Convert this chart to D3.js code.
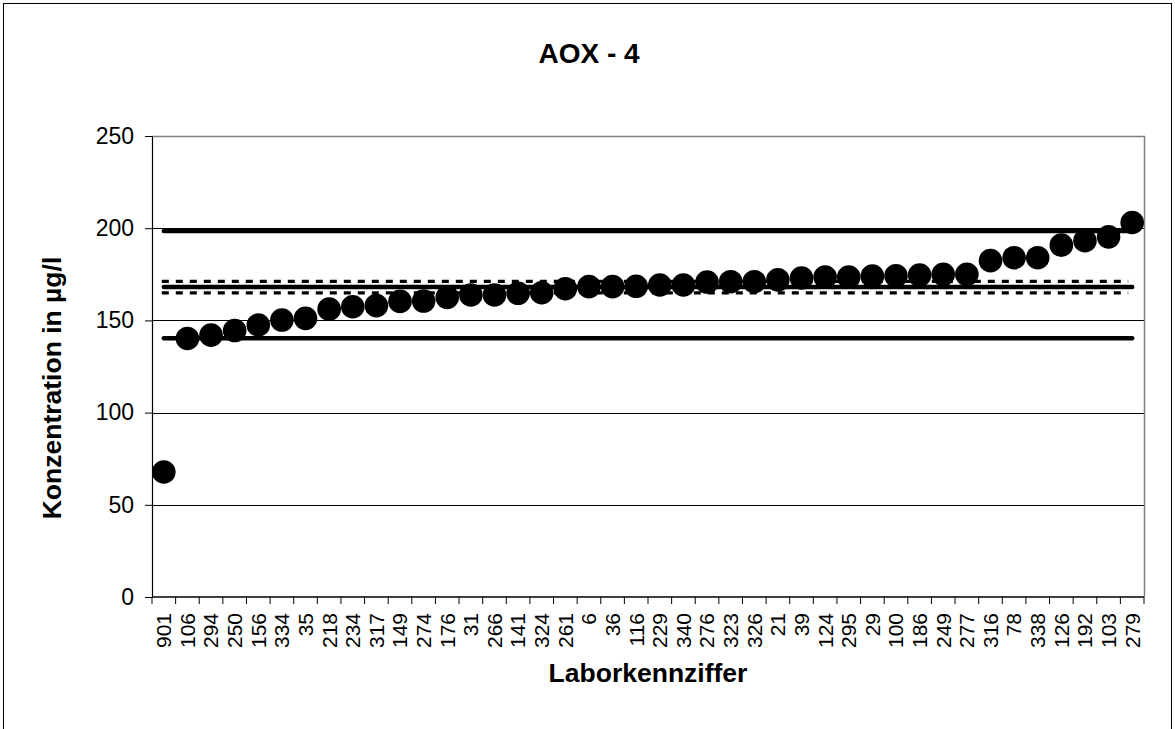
<!DOCTYPE html>
<html>
<head>
<meta charset="utf-8">
<script src="https://cdn.jsdelivr.net/npm/d3@7"></script>
<style>
  html, body { margin: 0; padding: 0; background: #fff; }
  svg { display: block; }
  text { font-family: "Liberation Sans", Arial, sans-serif; fill: #000; }
</style>
</head>
<body>
<svg id="chart" width="1175" height="729"></svg>
<script>
// ---- data ----
const labs = ["901","106","294","250","156","334","35","218","234","317","149","274","176","31","266","141","324","261","6","36","116","229","340","276","323","326","21","39","124","295","29","100","186","249","277","316","78","338","126","192","103","279"];
const values = [67.8,140.2,142,144.5,147.5,150.2,151.1,156.1,157.4,158,160.3,160.5,162.5,163.8,163.8,164.7,165,167.2,168.3,168.3,168.5,169.2,169.2,170.8,171,171,172,173,173.5,173.5,174,174.2,174.6,175,175,182.4,184,184,190.8,193.2,195.3,203.1];
const yTicks = [0, 50, 100, 150, 200, 250];
const solidLines = [198.5, 168.1, 140.3];
const dashedLines = [171.2, 164.9];
const titleText = "AOX - 4";
const xTitle = "Laborkennziffer";
const yTitle = "Konzentration in µg/l";

// ---- layout ----
const svg = d3.select("#chart");
const L = 152, R = 1144, T = 136, B = 597;

svg.append("rect").attr("x", 3.5).attr("y", 3.5).attr("width", 1168).attr("height", 760)
  .attr("fill", "#fff").attr("stroke", "#000").attr("stroke-width", 1);

const x = d3.scaleBand().domain(labs).range([L, R]).padding(0);
const y = d3.scaleLinear().domain([0, 250]).range([B, T]);
const xc = d => x(d) + x.bandwidth() / 2;

// gridlines
svg.append("g").selectAll("line").data(yTicks.filter(v => v > 0 && v < 250)).join("line")
  .attr("x1", L).attr("x2", R).attr("y1", d => Math.round(y(d)) + 0.5).attr("y2", d => Math.round(y(d)) + 0.5)
  .attr("stroke", "#000").attr("stroke-width", 1);

// plot border top/right (gray)
svg.append("path")
  .attr("d", `M${L},${T + 0.5}H${R + 0.5}V${B}`)
  .attr("fill", "none").attr("stroke", "#808080").attr("stroke-width", 1.5);

// y axis
const yAxis = d3.axisLeft(y).tickValues(yTicks).tickSize(7).tickSizeOuter(0).tickPadding(11);
const gy = svg.append("g").attr("transform", `translate(${L},0)`).call(yAxis);
gy.select(".domain").attr("stroke", "#000").attr("stroke-width", 1.2);
gy.selectAll(".tick line").attr("stroke", "#000");
gy.selectAll(".tick text").style("font-size", "23px").style("font-family", '"Liberation Sans", Arial, sans-serif').attr("fill", "#000");

// x axis (ticks between categories)
svg.append("line").attr("x1", L).attr("x2", R).attr("y1", B).attr("y2", B)
  .attr("stroke", "#000").attr("stroke-width", 1.5);
const bounds = labs.map(d => x(d)).concat([R]);
svg.append("g").selectAll("line").data(bounds).join("line")
  .attr("x1", d => d).attr("x2", d => d).attr("y1", B).attr("y2", B + 7)
  .attr("stroke", "#000").attr("stroke-width", 1);
svg.append("g").selectAll("text").data(labs).join("text")
  .attr("transform", d => `translate(${xc(d)},${613}) rotate(-90)`)
  .attr("text-anchor", "end").attr("dy", "0.35em")
  .style("font-size", "21px").text(d => d);

// reference lines
const x0 = xc(labs[0]), x1 = xc(labs[labs.length - 1]);
svg.append("g").selectAll("line").data(solidLines).join("line")
  .attr("x1", x0).attr("x2", x1).attr("y1", d => y(d)).attr("y2", d => y(d))
  .attr("stroke", "#000").attr("stroke-width", 4.5).attr("stroke-linecap", "round");
svg.append("g").selectAll("line").data(dashedLines).join("line")
  .attr("x1", x0 - 2).attr("x2", x1 - 4).attr("y1", d => y(d)).attr("y2", d => y(d))
  .attr("stroke", "#000").attr("stroke-width", 3.3).attr("stroke-dasharray", "7,7");

// points
svg.append("g").selectAll("circle").data(labs).join("circle")
  .attr("cx", d => xc(d)).attr("cy", (d, i) => y(values[i])).attr("r", 11.8)
  .attr("fill", "#000");

// titles
svg.append("text").attr("x", 589).attr("y", 63).attr("text-anchor", "middle")
  .style("font-size", "28px").style("font-weight", "bold").text(titleText);
svg.append("text").attr("x", 648).attr("y", 682).attr("text-anchor", "middle")
  .style("font-size", "26.5px").style("font-weight", "bold").text(xTitle);
svg.append("text").attr("transform", "translate(61,388) rotate(-90)").attr("text-anchor", "middle")
  .style("font-size", "26.5px").style("font-weight", "bold").text(yTitle);
</script>
</body>
</html>
